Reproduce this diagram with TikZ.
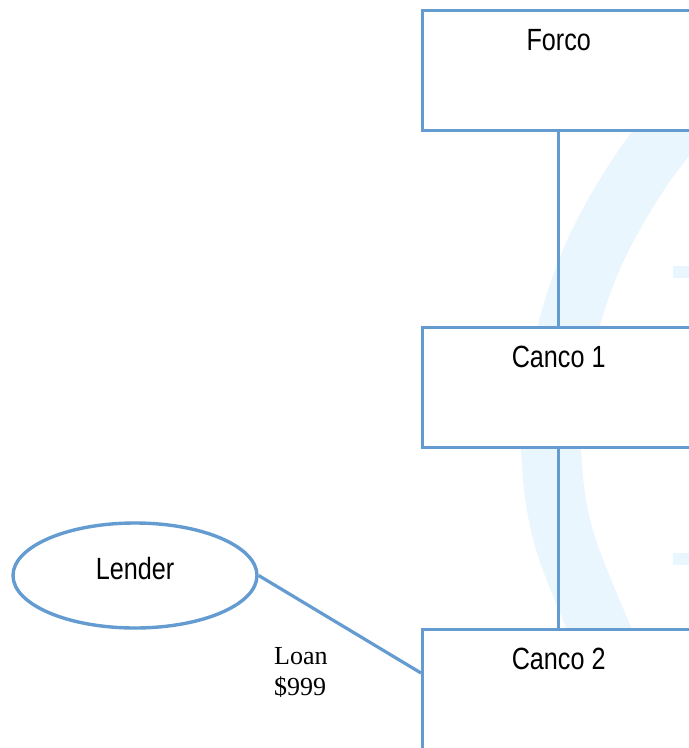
\documentclass[tikz,border=0pt]{standalone}
\usepackage{fontspec}
\setmainfont{Liberation Serif}
\newfontfamily\narrowsans[FakeStretch=0.82]{Liberation Sans}
\usetikzlibrary{shapes.geometric,calc}
\definecolor{edgeblue}{RGB}{100,155,208}
\definecolor{markblue}{RGB}{234,246,253}

\begin{document}
\begin{tikzpicture}[x=1pt,y=-1pt,
  box/.style={draw=edgeblue, line width=3.4pt, fill=white, rectangle,
    minimum width=272pt, minimum height=120pt, anchor=north west, inner sep=0pt},
  boxtitle/.style={font=\narrowsans\fontsize{30.7}{36}\selectfont,
    anchor=base, yshift=-41pt, inner sep=0pt},
  oval/.style={draw=edgeblue, line width=3.4pt, fill=white, ellipse,
    minimum width=244pt, minimum height=105pt, inner sep=0pt,
    font=\narrowsans\fontsize{30.7}{36}\selectfont,
    text height=22pt, text depth=15pt},
  link/.style={draw=edgeblue, line width=3.2pt},
  loanlbl/.style={font=\fontsize{26}{31}\selectfont, align=left,
    anchor=base west, inner sep=0pt},
  emblem/.style={draw=markblue, line width=60pt}]
  \useasboundingbox (0,0) rectangle (689,748);
  \clip (0,0) rectangle (689,748);

  % faint background emblem
  \draw[emblem] plot[smooth, tension=0.6] coordinates {(712,80) (640,172)
    (587,270) (556,380) (551,450) (566,545) (622,680)};
  \fill[markblue] (673,266) rectangle (695,278);
  \fill[markblue] (673,553) rectangle (695,565);

  % entities
  \node[box, label={[boxtitle]north:Forco}] (forco) at (421,9) {};
  \node[box, label={[boxtitle]north:Canco 1}] (canco1) at (421,326) {};
  \node[box, minimum height=170pt, label={[boxtitle]north:Canco 2}] (canco2) at (421,628) {};
  \node[oval] (lender) at (135,575.5) {Lender};

  % connectors
  \draw[link] (forco.south) -- (canco1.north);
  \draw[link] (canco1.south) -- (canco2.north);
  \draw[link] (lender.east) -- ($(canco2.north west)+(0,45)$);

  % loan label: anchor sits on the baseline of the last line
  \node[loanlbl] (loan) at (274,695) {Loan\\\$999};
\end{tikzpicture}
\end{document}
